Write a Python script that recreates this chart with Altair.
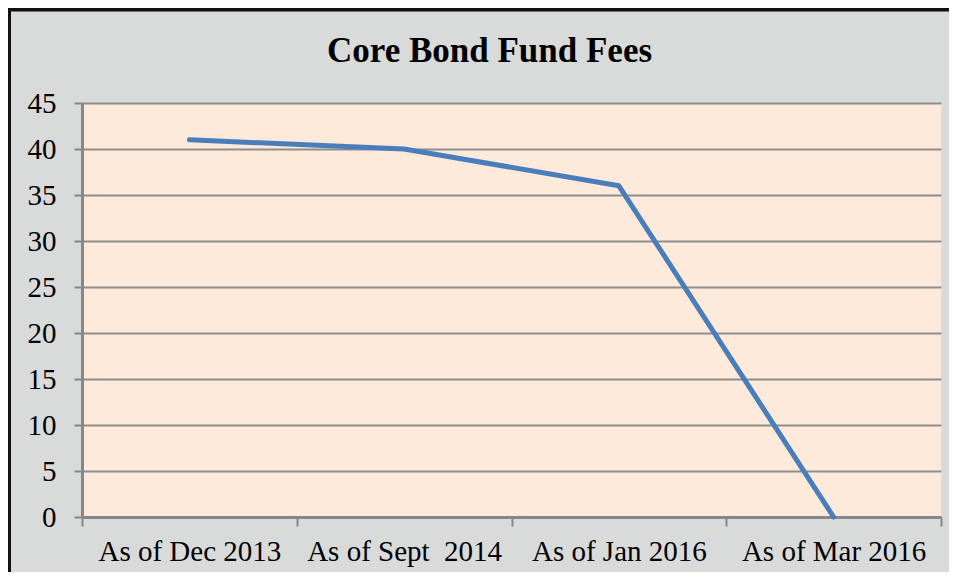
import altair as alt
import pandas as pd

categories = ["As of Dec 2013", "As of Sept\u00a0 2014", "As of Jan 2016", "As of Mar 2016"]
fees = [41, 40, 36, 0]
y_ticks = [0, 5, 10, 15, 20, 25, 30, 35, 40, 45]
title_text = "Core Bond Fund Fees"

df = pd.DataFrame({"period": categories, "fee": fees})

W, H = 859, 414
PAD = {"left": 74, "top": 95, "right": 8, "bottom": 55}
SERIF = "Liberation Serif"
AXIS_GRAY = "#878787"

base = alt.Chart(df)

line = base.mark_line(color="#4a7ebb", strokeWidth=5, strokeCap="round", strokeJoin="round").encode(
    x=alt.X("period:N", sort=categories,
            scale=alt.Scale(type="band", paddingInner=0, paddingOuter=0),
            axis=alt.Axis(title=None, labelAngle=0, labelFont=SERIF, labelFontSize=29,
                          labelColor="black", labelBaseline="alphabetic", labelPadding=34,
                          labelLimit=400,
                          tickBand="extent", tickSize=9, tickWidth=2, tickColor=AXIS_GRAY,
                          domainColor=AXIS_GRAY, domainWidth=3, grid=False)),
    y=alt.Y("fee:Q", scale=alt.Scale(domain=[0, 45], nice=False, zero=True),
            axis=alt.Axis(title=None, values=y_ticks, labelFont=SERIF, labelFontSize=29,
                          labelColor="black", labelPadding=18, tickSize=8, tickWidth=2,
                          tickColor=AXIS_GRAY, domainColor=AXIS_GRAY, domainWidth=3,
                          grid=True, gridColor="#8e8e8e", gridWidth=2)),
)

one = alt.Chart(pd.DataFrame({"k": [0]}))

left_border = one.mark_rule(color="#111111", strokeWidth=4).encode(
    x=alt.value(-73), y=alt.value(-95), y2=alt.value(H + PAD["bottom"]))
top_border = one.mark_rule(color="#111111", strokeWidth=4).encode(
    x=alt.value(-75), x2=alt.value(W + PAD["right"]), y=alt.value(-93.5))

title = one.mark_text(text=title_text, font=SERIF, fontSize=35, fontWeight="bold",
                      color="black", align="center", baseline="alphabetic").encode(
    x=alt.value(407.5), y=alt.value(-41))

chart = alt.layer(line, left_border, top_border, title).properties(
    width=W, height=H, padding=PAD, autosize=alt.AutoSizeParams(type="none"),
    background="#d9dada",
).configure_view(fill="#fdeadb", stroke=None)

chart.save("out.html", embed_options={"renderer": "svg", "actions": False})
